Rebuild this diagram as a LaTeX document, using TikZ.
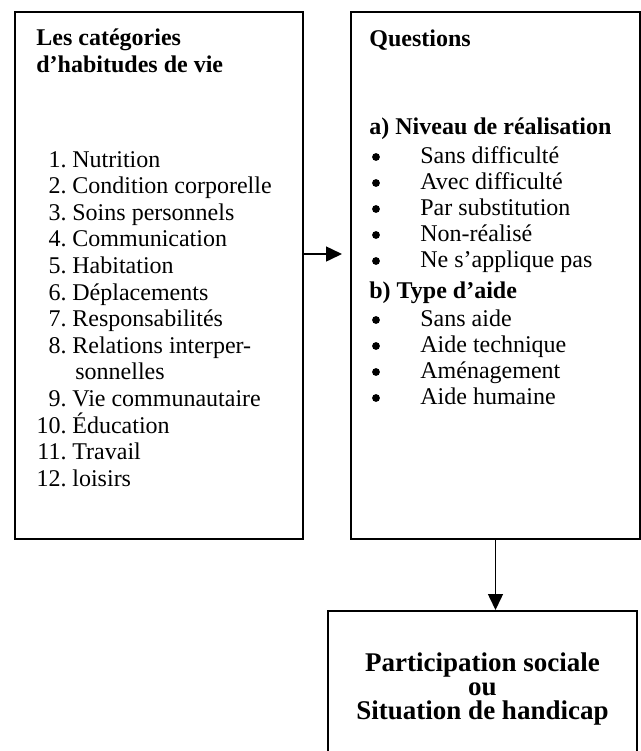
\documentclass[tikz,border=0pt]{standalone}
\usepackage{fontspec}
\setmainfont{Liberation Serif}
\usetikzlibrary{arrows.meta}
\begin{document}
\begin{tikzpicture}[x=0.5pt, y=-0.5pt, every node/.style={font=\fontsize{12}{14}\selectfont},
  box/.style={draw, line width=1pt, inner sep=0pt},
  txt/.style={anchor=base west, inner sep=0pt},
  num/.style={anchor=base east, inner sep=0pt},
  dot/.style={circle, fill, inner sep=0pt, minimum size=3.9pt},
  hd/.style={anchor=base west, inner sep=0pt, font=\fontsize{12}{14}\selectfont\bfseries},
  hdc/.style={anchor=base, inner sep=0pt, font=\fontsize{13.5}{15}\selectfont\bfseries},
  arr/.style={-{Triangle[length=8pt, width=7.5pt]}, line width=0.75pt}]
  \useasboundingbox (0,0) rectangle (641,751);
  \clip (0,0) rectangle (641,751);
  % the three boxes
  \node[box, minimum width=144pt, minimum height=263.5pt] (cat) at (159,275.5) {};
  \node[box, minimum width=144.5pt, minimum height=263.5pt] (quest) at (495.5,275.5) {};
  \node[box, minimum width=154.5pt, minimum height=100pt] (part) at (482.5,711) {};
  % left box
  \node[hd] (cattitle) at (36,45) {Les catégories};
  \node[hd] (catsub) at (36,72) {d’habitudes de vie};
  \node[num] (n1) at (67,167) {1.};    \node[txt] (c1) at (72,167) {Nutrition};
  \node[num] (n2) at (67,193.6) {2.};  \node[txt] (c2) at (72,193.6) {Condition corporelle};
  \node[num] (n3) at (67,220.2) {3.};  \node[txt] (c3) at (72,220.2) {Soins personnels};
  \node[num] (n4) at (67,246.8) {4.};  \node[txt] (c4) at (72,246.8) {Communication};
  \node[num] (n5) at (67,273.4) {5.};  \node[txt] (c5) at (72,273.4) {Habitation};
  \node[num] (n6) at (67,300) {6.};    \node[txt] (c6) at (72,300) {Déplacements};
  \node[num] (n7) at (67,326.6) {7.};  \node[txt] (c7) at (72,326.6) {Responsabilités};
  \node[num] (n8) at (67,353.2) {8.};  \node[txt] (c8) at (72,353.2) {Relations interper-};
  \node[txt] (c8b) at (75,379.8) {sonnelles};
  \node[num] (n9) at (67,406.4) {9.};  \node[txt] (c9) at (72,406.4) {Vie communautaire};
  \node[num] (n10) at (67,433) {10.};  \node[txt] (c10) at (72,433) {Éducation};
  \node[num] (n11) at (67,459.6) {11.}; \node[txt] (c11) at (72,459.6) {Travail};
  \node[num] (n12) at (67,486.2) {12.}; \node[txt] (c12) at (72,486.2) {loisirs};
  % right box
  \node[hd] (qtitle) at (369,46) {Questions};
  \node[hd] (qa) at (369,134) {a) Niveau de réalisation};
  \node[dot] (d1) at (376,157) {}; \node[txt] (a1) at (420,163) {Sans difficulté};
  \node[dot] (d2) at (376,183) {}; \node[txt] (a2) at (420,189) {Avec difficulté};
  \node[dot] (d3) at (376,209) {}; \node[txt] (a3) at (420,215) {Par substitution};
  \node[dot] (d4) at (376,235) {}; \node[txt] (a4) at (420,241) {Non-réalisé};
  \node[dot] (d5) at (376,261) {}; \node[txt] (a5) at (420,267) {Ne s’applique pas};
  \node[hd] (qb) at (369,298) {b) Type d’aide};
  \node[dot] (d6) at (376,320) {}; \node[txt] (b1) at (420,326) {Sans aide};
  \node[dot] (d7) at (376,346) {}; \node[txt] (b2) at (420,352) {Aide technique};
  \node[dot] (d8) at (376,372) {}; \node[txt] (b3) at (420,378) {Aménagement};
  \node[dot] (d9) at (376,398) {}; \node[txt] (b4) at (420,404) {Aide humaine};
  % bottom box
  \node[hdc] (p1) at (482.5,671) {Participation sociale};
  \node[hdc] (p2) at (482.5,695) {ou};
  \node[hdc] (p3) at (482.5,719) {Situation de handicap};
  % arrows
  \draw[arr, shorten >=4pt] ([yshift=10.75pt]cat.east) -- ([yshift=10.75pt]quest.west);
  \draw[arr] (quest.south) -- (quest.south |- part.north);
\end{tikzpicture}
\end{document}
